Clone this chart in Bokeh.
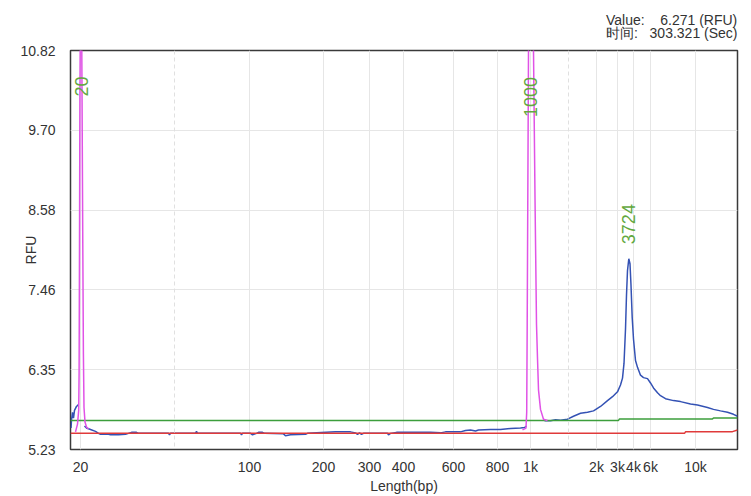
from bokeh.plotting import figure
from bokeh.models import Range1d, FixedTicker, Label, Span, Title
from bokeh.embed import file_html
from bokeh.resources import INLINE
import math

NAN = float("nan")

# Size ladder: migration position (arbitrary units) of each ladder size
ladder_labels = ["20", "100", "200", "300", "400", "600", "800", "1k", "2k", "3k", "4k", "6k", "10k"]
ladder_mig = [10, 179, 253, 299, 333, 383, 427, 460, 526, 547, 563, 580, 625]
minor_mig = [104, 498]

rfu_ticks = [5.23, 6.348, 7.466, 8.584, 9.702, 10.82]
rfu_tick_labels = ["5.23", "6.35", "7.46", "8.58", "9.70", "10.82"]

# Sample trace (blue)
sample_mig = [0.5, 1, 2, 3, 4, 6, 8, NAN,
              14, 16, 20, 25, 28, 30, 38, 40, 48, 55, 58, 61, 66, 68, 98, 99, 100,
              125, 126, 127, 170, 171, 172, 180, 182, 186, 188, 192, 194, 213, 215, 220,
              235, 237, 265, 280, 285, 287, 289, 291, 293, 317, 318, 320, 326, 360, 370,
              375, 390, 395, 400, 405, 408, 420, 430, 440, 450, 454, 456, NAN,
              474, 480, 485, 490, 497, 503, 510, 517, 523, 530, 537, 542, 547, 550, 552,
              553.5, 555, 556, 557, 558.3, 559.5, 560.5, 561.7, 563, 565, 567, 570, 573,
              577, 580, 583, 587, 590, 595, 603, 610, 620, 627, 637, 643, 650, 657, 663, 667]
sample_rfu = [5.531, 5.641, 5.751, 5.668, 5.778, 5.833, 5.860, NAN,
              5.559, 5.531, 5.511, 5.484, 5.456, 5.442, 5.442, 5.436, 5.436, 5.442, 5.456,
              5.470, 5.470, 5.456, 5.456, 5.436, 5.456,
              5.456, 5.484, 5.456, 5.456, 5.436, 5.456, 5.456, 5.436, 5.456, 5.470, 5.470,
              5.456, 5.449, 5.422, 5.436,
              5.442, 5.456, 5.477, 5.477, 5.463, 5.442, 5.463, 5.442, 5.456, 5.456, 5.436,
              5.456, 5.470, 5.470, 5.463,
              5.477, 5.477, 5.497, 5.504, 5.490, 5.504, 5.511, 5.511, 5.525, 5.531, 5.538,
              5.559, NAN,
              5.634, 5.634, 5.648, 5.641, 5.655, 5.696, 5.737, 5.751, 5.771, 5.833, 5.915,
              5.970, 6.038, 6.134, 6.230,
              6.436, 6.915, 7.395, 7.737, 7.902, 7.833, 7.532, 7.080, 6.778, 6.477, 6.381,
              6.271, 6.237,
              6.223, 6.162, 6.093, 6.025, 5.984, 5.942, 5.915, 5.901, 5.867, 5.853, 5.819,
              5.792, 5.771, 5.751, 5.723, 5.696]

# Marker trace (magenta): lower (20) and upper (1000) markers
marker_mig = [5, 7, 8.2, 8.6, 9, 9.4, 9.8, 10.5, 11.2, 11.7, 12.3, 12.9, 13.5, 14.5, 16, 18, NAN,
              452, 454, 455.5, 456.2, 456.7, 457.3, 458, 459, 460.5, 462, 463, 464.5, 466,
              467, 468, 470, 473, 477]
marker_rfu = [5.477, 5.586, 5.778, 6.299, 8.080, 10.135, 11.09, 12.5, 11.09, 9.724, 8.080,
              6.573, 5.819, 5.614, 5.545, 5.518, NAN,
              5.504, 5.518, 5.531, 5.751, 6.984, 8.765, 10.82, 13.56, 15.0, 13.56, 10.82,
              8.765, 6.984, 6.504, 6.066, 5.792, 5.655, 5.637]

# Baselines
green_mig = [0, 548, 549, 642, 643, 667]
green_rfu = [5.637, 5.637, 5.659, 5.659, 5.671, 5.671]
red_mig = [0, 614, 615, 662, 667]
red_rfu = [5.456, 5.456, 5.477, 5.480, 5.504]

peak_names = ["20", "1000", "3724"]
peak_mig = [11, 459.5, 558]
peak_label_rfu = [10.176, 9.888, 8.107]

header_lines = ["Value:\u00a0\u00a0\u00a0\u00a06.271 (RFU)",
                "时间:\u00a0\u00a0\u00a0303.321 (Sec)"]

FONT = "Liberation Sans"
TXT = "#333333"

p = figure(width=751, height=496, x_range=Range1d(0, 667), y_range=Range1d(5.23, 10.82),
           output_backend="svg", toolbar_location=None,
           min_border_left=70, min_border_right=14, min_border_top=50, min_border_bottom=38)
p.background_fill_color = "white"
p.border_fill_color = "white"
p.outline_line_color = "#3a3a3a"
p.outline_line_width = 1.5

# header: two lines above the frame, at the right
p.add_layout(Title(text="\n".join(header_lines), align="right", text_font=FONT,
                   text_font_size="14px", text_font_style="normal", text_color=TXT,
                   text_line_height=0.82, standoff=18), "above")

ya = p.yaxis[0]
ya.ticker = FixedTicker(ticks=rfu_ticks)
ya.major_label_overrides = {t: l for t, l in zip(rfu_ticks, rfu_tick_labels)}
ya.major_tick_line_color = None
ya.minor_tick_line_color = None
ya.axis_line_color = None
ya.major_label_standoff = 9
ya.major_label_text_font = FONT
ya.major_label_text_font_size = "14px"
ya.major_label_text_color = TXT
ya.axis_label = "RFU"
ya.axis_label_text_font = FONT
ya.axis_label_text_font_size = "14px"
ya.axis_label_text_font_style = "normal"
ya.axis_label_text_color = TXT
ya.axis_label_standoff = -22

xa = p.xaxis[0]
xa.ticker = FixedTicker(ticks=ladder_mig)
xa.major_label_overrides = {m: l for m, l in zip(ladder_mig, ladder_labels)}
xa.major_tick_line_color = None
xa.minor_tick_line_color = None
xa.axis_line_color = None
xa.major_label_standoff = 3
xa.major_label_text_font = FONT
xa.major_label_text_font_size = "14px"
xa.major_label_text_color = TXT
xa.axis_label = "Length(bp)"
xa.axis_label_text_font = FONT
xa.axis_label_text_font_size = "14px"
xa.axis_label_text_font_style = "normal"
xa.axis_label_text_color = TXT
xa.axis_label_standoff = 0

p.xgrid.ticker = FixedTicker(ticks=ladder_mig)
p.xgrid.grid_line_color = "#e6e6e6"
p.ygrid.ticker = FixedTicker(ticks=rfu_ticks)
p.ygrid.grid_line_color = "#e6e6e6"

for m in minor_mig:
    p.add_layout(Span(location=m, dimension="height", line_color="#e0e0e0",
                      line_dash="4 3", line_width=1))

p.line(sample_mig, sample_rfu, line_color="#3452b4", line_width=1.5)
p.line(green_mig, green_rfu, line_color="#3c9e3c", line_width=1.5)
p.line(red_mig, red_rfu, line_color="#e03a3a", line_width=1.5)
p.line(marker_mig, marker_rfu, line_color="#e052e6", line_width=1.5)

for name, m, r in zip(peak_names, peak_mig, peak_label_rfu):
    p.add_layout(Label(x=m, y=r, text=name, angle=math.pi / 2, text_align="left",
                       text_baseline="middle", text_color="#63a83e",
                       text_font=FONT, text_font_size="18px"))

open("out.html", "w").write(file_html(p, INLINE))
